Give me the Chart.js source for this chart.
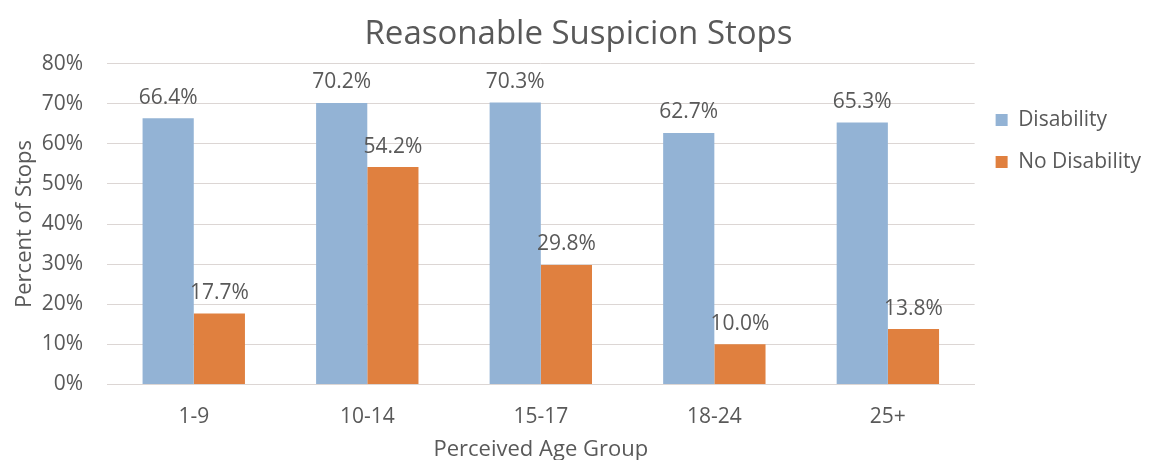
<!DOCTYPE html>
<html>
<head>
<meta charset="utf-8">
<script src="https://cdn.jsdelivr.net/npm/chart.js@4.4.1/dist/chart.umd.min.js"></script>
<style>
  html, body { margin: 0; padding: 0; background: #fff; }
  #wrap { width: 1151px; height: 460px; position: relative; }
</style>
</head>
<body>
<div id="wrap"><canvas id="chart"></canvas></div>
<script>
const categories = ['1-9', '10-14', '15-17', '18-24', '25+'];
const disability = [66.4, 70.2, 70.3, 62.7, 65.3];
const noDisability = [17.7, 54.2, 29.8, 10.0, 13.8];
const yTicks = [0, 10, 20, 30, 40, 50, 60, 70, 80];

const textColor = '#595959';
const gridColor = '#dcd6d4';
const fontFamily = '"Open Sans", "Noto Sans", Arial, sans-serif';

// draws the value above each bar
const barLabels = {
  id: 'barLabels',
  afterDatasetsDraw(chart){
    const ctx = chart.ctx;
    ctx.save();
    ctx.fillStyle = textColor;
    ctx.font = `21px ${fontFamily}`;
    ctx.textAlign = 'center';
    ctx.textBaseline = 'bottom';
    chart.data.datasets.forEach((ds, di) => {
      const meta = chart.getDatasetMeta(di);
      meta.data.forEach((bar, i) => {
        ctx.fillText(ds.data[i].toFixed(1) + '%', bar.x, bar.y - 10);
      });
    });
    ctx.restore();
  }
};

new Chart(document.getElementById('chart'), {
  type: 'bar',
  data: {
    labels: categories,
    datasets: [
      { label: 'Disability', data: disability, backgroundColor: '#93b3d5' },
      { label: 'No Disability', data: noDisability, backgroundColor: '#e0803f' }
    ]
  },
  options: {
    responsive: true,
    maintainAspectRatio: false,
    animation: false,
    layout: { padding: { top: 14, right: 0, left: 6, bottom: -8 } },
    datasets: { bar: { categoryPercentage: 0.59, barPercentage: 1.0 } },
    scales: {
      x: {
        grid: { display: false },
        border: { color: gridColor },
        ticks: { color: textColor, font: { size: 21, family: fontFamily }, padding: 12 },
        title: { display: true, text: 'Perceived Age Group', color: textColor,
                 font: { size: 22, family: fontFamily }, padding: { top: -5, bottom: 5 } }
      },
      y: {
        min: 0, max: 80,
        afterBuildTicks(axis){ axis.ticks = yTicks.map(v => ({ value: v })); },
        afterFit(axis){ axis.width = 101; },
        grid: { color: gridColor, drawTicks: false },
        border: { display: false },
        ticks: { color: textColor, font: { size: 21, family: fontFamily }, padding: 24,
                 callback: v => v + '%' },
        title: { display: true, text: 'Percent of Stops', color: textColor,
                 font: { size: 22, family: fontFamily }, padding: { top: 6, bottom: 0 } }
      }
    },
    plugins: {
      title: { display: true, text: 'Reasonable Suspicion Stops', color: textColor,
               font: { size: 33, family: fontFamily, weight: 'normal' }, padding: { top: 1, bottom: 9 } },
      legend: {
        position: 'right',
        align: 'start',
        title: { display: true, text: ' ', padding: { top: 60, bottom: 0 } },
        labels: { color: textColor, font: { size: 21, family: fontFamily },
                  boxWidth: 12, boxHeight: 12, padding: 21 }
      },
      tooltip: { enabled: false }
    }
  },
  plugins: [barLabels]
});
</script>
</body>
</html>
